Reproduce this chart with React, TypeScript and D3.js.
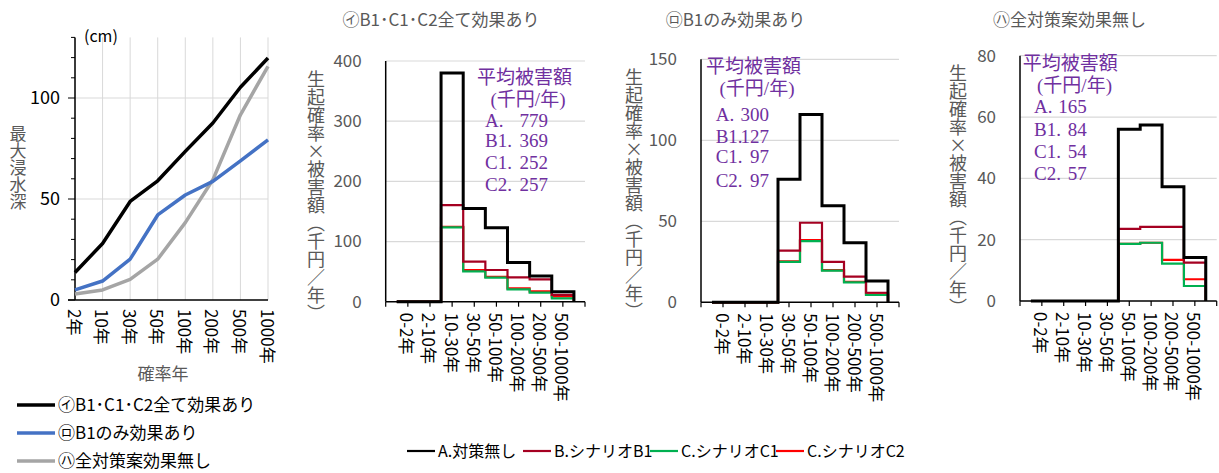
import React from 'react';
import * as d3 from 'd3';

// left chart: max inundation depth by return period
const depthCats = ['2年', '10年', '30年', '50年', '100年', '200年', '500年', '1000年'];
const depthA = [13.6, 28, 48.8, 59, 73.6, 87.6, 105.3, 119.8];
const depthB = [5, 9.4, 20.2, 42.1, 52, 58.7, 68.9, 79.3];
const depthC = [3, 5, 10.2, 20.2, 38.3, 59.5, 91.7, 115.7];
const depthNames = ['㋑B1･C1･C2全て効果あり', '㋺B1のみ効果あり', '㋩全対策案効果無し'];

// step charts: probability x damage by return-period band
const bands = ['0-2年', '2-10年', '10-30年', '30-50年', '50-100年', '100-200年', '200-500年', '500-1000年'];

const a1 = [0, 0, 380, 155, 123, 65, 42.7, 16.5];
const b1 = [0, 0, 160.5, 66.5, 52.7, 40.5, 37, 11.5];
const c1a = [0, 0, 123.6, 50.5, 40, 20.5, 15, 5.5];
const c2a = [0, 0, 124.5, 52.5, 41.2, 22, 17.3, 9];

const a2 = [0, 0, 0, 76, 116, 59.6, 36.8, 13.1];
const b2 = [0, 0, 0, 31.9, 49.1, 25, 15.8, 5.9];
const c1b = [0, 0, 0, 24.9, 37.8, 19.5, 12.3, 4.5];
const c2b = [0, 0, 0, 25.3, 38.4, 19.9, 12.7, 4.9];

const a3 = [0, 0, 0, 0, 56, 57.4, 37.3, 14.2];
const b3 = [0, 0, 0, 0, 23.5, 24.2, 24.2, 12.5];
const c1c = [0, 0, 0, 0, 18.6, 19, 12.2, 4.9];
const c2c = [0, 0, 0, 0, 18.6, 19, 13.4, 7.1];

const avgLabels = ['A.', 'B1.', 'C1.', 'C2.'];
const avg1 = [779, 369, 252, 257];
const avg2 = [300, 127, 97, 97];
const avg3 = [165, 84, 54, 57];

const stepTitles = ['㋑B1･C1･C2全て効果あり', '㋺B1のみ効果あり', '㋩全対策案効果無し'];
const legendNames = ['A.対策無し', 'B.シナリオB1', 'C.シナリオC1', 'C.シナリオC2'];

const JP = '"Noto Sans CJK JP", "Noto Sans", sans-serif';
const SERIF = '"Liberation Serif", "Noto Sans CJK JP", serif';
const GRAY = '#595959';
const GRID = '#d9d9d9';
const DEPTH_COLORS = ['#000000', '#4472c4', '#a5a5a5'];
const STEP_COLORS = ['#000000', '#a50021', '#00b050', '#ff0000'];

const DepthChart = () => {
  const x = d3.scalePoint<string>().domain(depthCats).range([75, 268]);
  const y = d3.scaleLinear().domain([0, 130]).range([300, 37.4]);
  const line = d3
    .line<number>()
    .x((_, i) => x(depthCats[i]) as number)
    .y(d => y(d));
  const minor = d3.range(0, 131, 10);
  return (
    <g>
      {depthCats.map(c => (
        <line key={c} x1={x(c)} x2={x(c)} y1={y(130)} y2={y(0)} stroke={GRID} strokeWidth={1} />
      ))}
      {[50, 100].map(v => (
        <line key={v} x1={75} x2={268} y1={y(v)} y2={y(v)} stroke={GRID} strokeWidth={1} />
      ))}
      <line x1={75} x2={75} y1={y(130)} y2={y(0)} stroke="#000" strokeWidth={1.5} />
      <line x1={68} x2={268} y1={y(0)} y2={y(0)} stroke="#000" strokeWidth={1.5} />
      {minor.map(v => (
        <line key={v} x1={v % 50 === 0 ? 68 : 71} x2={75} y1={y(v)} y2={y(v)} stroke="#000" strokeWidth={1} />
      ))}
      {[0, 50, 100].map(v => (
        <text key={v} x={60} y={y(v)} dy="0.35em" textAnchor="end" fontSize={18} fill="#000" fontFamily={JP}>
          {v}
        </text>
      ))}
      <text x={84} y={42} fontSize={16} fill="#000" fontFamily={JP}>(cm)</text>
      <text
        x={18}
        y={168}
        textAnchor="middle"
        fontSize={17}
        fill={GRAY}
        fontFamily={JP}
        style={{ writingMode: 'vertical-rl' }}>
        最大浸水深
      </text>
      {[depthC, depthB, depthA].map((s, k) => (
        <path key={k} d={line(s) || ''} fill="none" stroke={DEPTH_COLORS[2 - k]} strokeWidth={3.5} strokeLinejoin="round" />
      ))}
      {depthCats.map(c => (
        <text
          key={c}
          transform={`translate(${x(c)},309) rotate(90)`}
          dominantBaseline="central"
          fontSize={17}
          fill="#000"
          fontFamily={JP}>
          {c}
        </text>
      ))}
      <text x={163} y={380} textAnchor="middle" fontSize={17} fill={GRAY} fontFamily={JP}>
        確率年
      </text>
      {depthNames.map((n, i) => (
        <g key={n} transform={`translate(0,${405 + i * 28})`}>
          <line x1={17} x2={55} y1={0} y2={0} stroke={DEPTH_COLORS[i]} strokeWidth={3.5} />
          <text x={58} y={0} dy="0.35em" fontSize={17} fill="#000" fontFamily={JP}>
            {n}
          </text>
        </g>
      ))}
    </g>
  );
};

type StepProps = {
  series: number[][];
  left: number;
  right: number;
  bottom: number;
  top: number;
  max: number;
  step: number;
  title: string;
  titleX: number;
  yTitleX: number;
  yTitleY: number;
  avg: number[];
  noteX: number;
  noteParenX: number;
  labelX: number;
  valueX: number;
  noteY: number[];
};

const StepChart = (p: StepProps) => {
  const x = d3.scaleLinear().domain([0, 9]).range([p.left, p.right]);
  const y = d3.scaleLinear().domain([0, p.max]).range([p.bottom, p.top]);
  const ticks = d3.range(0, p.max + 0.001, p.step);
  const stepLine = d3
    .line<[number, number]>()
    .x(d => x(d[0]))
    .y(d => y(d[1]))
    .curve(d3.curveStepAfter);
  const pts = (s: number[]) =>
    [...s.map((v, i) => [i + 0.5, v] as [number, number]), [8.5, 0] as [number, number]];
  // draw C2, C1, B then A on top
  const order = [3, 2, 1, 0];
  return (
    <g>
      {ticks
        .filter(t => t > 0)
        .map(t => (
          <line key={t} x1={p.left} x2={p.right} y1={y(t)} y2={y(t)} stroke={GRID} strokeWidth={1.2} />
        ))}
      {ticks.map(t => (
        <text key={t} x={p.left - 24} y={y(t)} dy="0.35em" textAnchor="end" fontSize={17} fill={GRAY} fontFamily={JP}>
          {t}
        </text>
      ))}
      <text
        x={p.yTitleX}
        y={p.yTitleY}
        textAnchor="middle"
        fontSize={18}
        fill={GRAY}
        fontFamily={JP}
        style={{ writingMode: 'vertical-rl' }}>
        生起確率×被害額（千円／年）
      </text>
      <text x={p.titleX} y={26} textAnchor="middle" fontSize={17} fill={GRAY} fontFamily={JP}>
        {p.title}
      </text>
      {order.map(k => (
        <path
          key={k}
          d={stepLine(pts(p.series[k])) || ''}
          fill="none"
          stroke={STEP_COLORS[k]}
          strokeWidth={k === 0 ? 3 : 2.2}
        />
      ))}
      <line x1={p.left} x2={p.left} y1={p.top} y2={p.bottom} stroke="#000" strokeWidth={1.5} />
      <line x1={p.left} x2={p.right} y1={p.bottom} y2={p.bottom} stroke="#000" strokeWidth={1.5} />
      {d3.range(0, 10).map(i => (
        <line key={i} x1={x(i)} x2={x(i)} y1={p.bottom} y2={p.bottom + 5} stroke="#000" strokeWidth={1.2} />
      ))}
      {bands.map((b, i) => (
        <text
          key={b}
          transform={`translate(${x(i + 1)},${p.bottom + 11}) rotate(90)`}
          dominantBaseline="central"
          fontSize={17}
          fill="#000"
          fontFamily={JP}>
          {b}
        </text>
      ))}
      <g fill="#7030a0" fontFamily={SERIF} fontSize={19}>
        <text x={p.noteX} y={p.noteY[0]}>平均被害額</text>
        <text x={p.noteParenX} y={p.noteY[1]} textAnchor="middle">(千円/年)</text>
        {avgLabels.map((l, i) => (
          <g key={l}>
            <text x={p.labelX} y={p.noteY[i + 2]}>{l}</text>
            <text x={p.valueX} y={p.noteY[i + 2]} textAnchor="end">{p.avg[i]}</text>
          </g>
        ))}
      </g>
    </g>
  );
};

const App = () => {
  return (
    <svg width={1219} height={473} style={{ position: 'absolute', left: 0, top: 0, background: '#fff' }}>
      <rect width={1219} height={473} fill="#fff" />
      <DepthChart />
      <StepChart
        series={[a1, b1, c1a, c2a]}
        left={385.7}
        right={585}
        bottom={301.7}
        top={61}
        max={400}
        step={100}
        title={stepTitles[0]}
        titleX={441}
        yTitleX={316}
        yTitleY={196}
        avg={avg1}
        noteX={477}
        noteParenX={528}
        labelX={485}
        valueX={548}
        noteY={[84, 105.5, 126.5, 147, 169, 190.5]}
      />
      <StepChart
        series={[a2, b2, c1b, c2b]}
        left={701}
        right={899}
        bottom={302.3}
        top={59.3}
        max={150}
        step={50}
        title={stepTitles[1]}
        titleX={735.5}
        yTitleX={634}
        yTitleY={194}
        avg={avg2}
        noteX={706}
        noteParenX={757}
        labelX={715.7}
        valueX={769}
        noteY={[73, 95, 121, 142.5, 163, 186.5]}
      />
      <StepChart
        series={[a3, b3, c1c, c2c]}
        left={1020}
        right={1216.7}
        bottom={301}
        top={55.7}
        max={80}
        step={20}
        title={stepTitles[2]}
        titleX={1069.5}
        yTitleX={958}
        yTitleY={190}
        avg={avg3}
        noteX={1022.7}
        noteParenX={1074.5}
        labelX={1034}
        valueX={1086.7}
        noteY={[70, 92, 113, 135.5, 157.5, 180]}
      />
      {legendNames.map((n, i) => {
        const lx = [407, 523, 650, 776][i];
        return (
          <g key={n}>
            <line x1={lx} x2={lx + 28} y1={451} y2={451} stroke={STEP_COLORS[i]} strokeWidth={2.2} />
            <text x={lx + 31} y={451} dy="0.35em" fontSize={16} fill="#000" fontFamily={JP}>
              {n}
            </text>
          </g>
        );
      })}
    </svg>
  );
};

export default App;
